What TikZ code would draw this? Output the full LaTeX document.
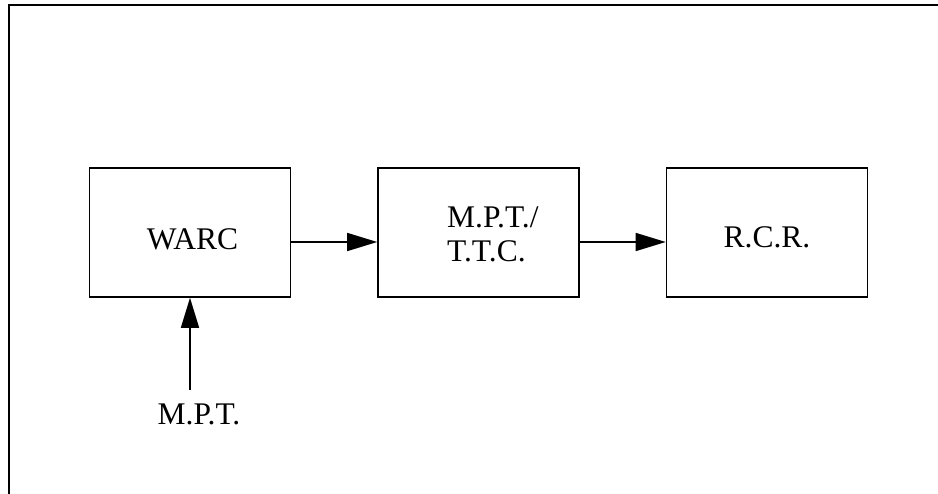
\documentclass[tikz,border=0pt]{standalone}
\usepackage{fontspec}
\setmainfont{Liberation Serif}
\usetikzlibrary{arrows.meta}
\begin{document}
\begin{tikzpicture}[x=1pt,y=-1pt,
  blockbox/.style={draw=black,line width=1.6pt,minimum width=201pt,minimum height=129pt,inner sep=0pt},
  lbl/.style={font=\fontsize{31.5}{34}\selectfont,inner sep=0pt},
  flow/.style={line width=1.6pt,-{Triangle[length=30pt,width=18pt]}}]
\useasboundingbox (0,0) rectangle (938,494);
% open frame
\draw[line width=2pt] (9,494) -- (9,5) -- (938,5);
% boxes
\node[blockbox] (warc) at (190,232.5) {};
\node[blockbox] (mpt) at (478.5,232.5) {};
\node[blockbox] (rcr) at (767,232.5) {};
% labels
\node[lbl,anchor=base] (warct) at (192.5,250) {WARC};
\node[lbl,anchor=base west,align=left] (mptt) at (447,262) {M.P.T./\\T.T.C.};
\node[lbl,anchor=base] (rcrt) at (767,248) {R.C.R.};
\node[lbl,anchor=base] (inlbl) at (199,425) {M.P.T.};
\coordinate (instart) at (190,390);
% connectors
\draw[flow] ([yshift=-9.5pt]warc.east) -- ([yshift=-9.5pt]mpt.west);
\draw[flow] ([yshift=-9.5pt]mpt.east) -- ([yshift=-9.5pt]rcr.west);
\draw[flow] (instart) -- (warc.south);
\end{tikzpicture}
\end{document}
